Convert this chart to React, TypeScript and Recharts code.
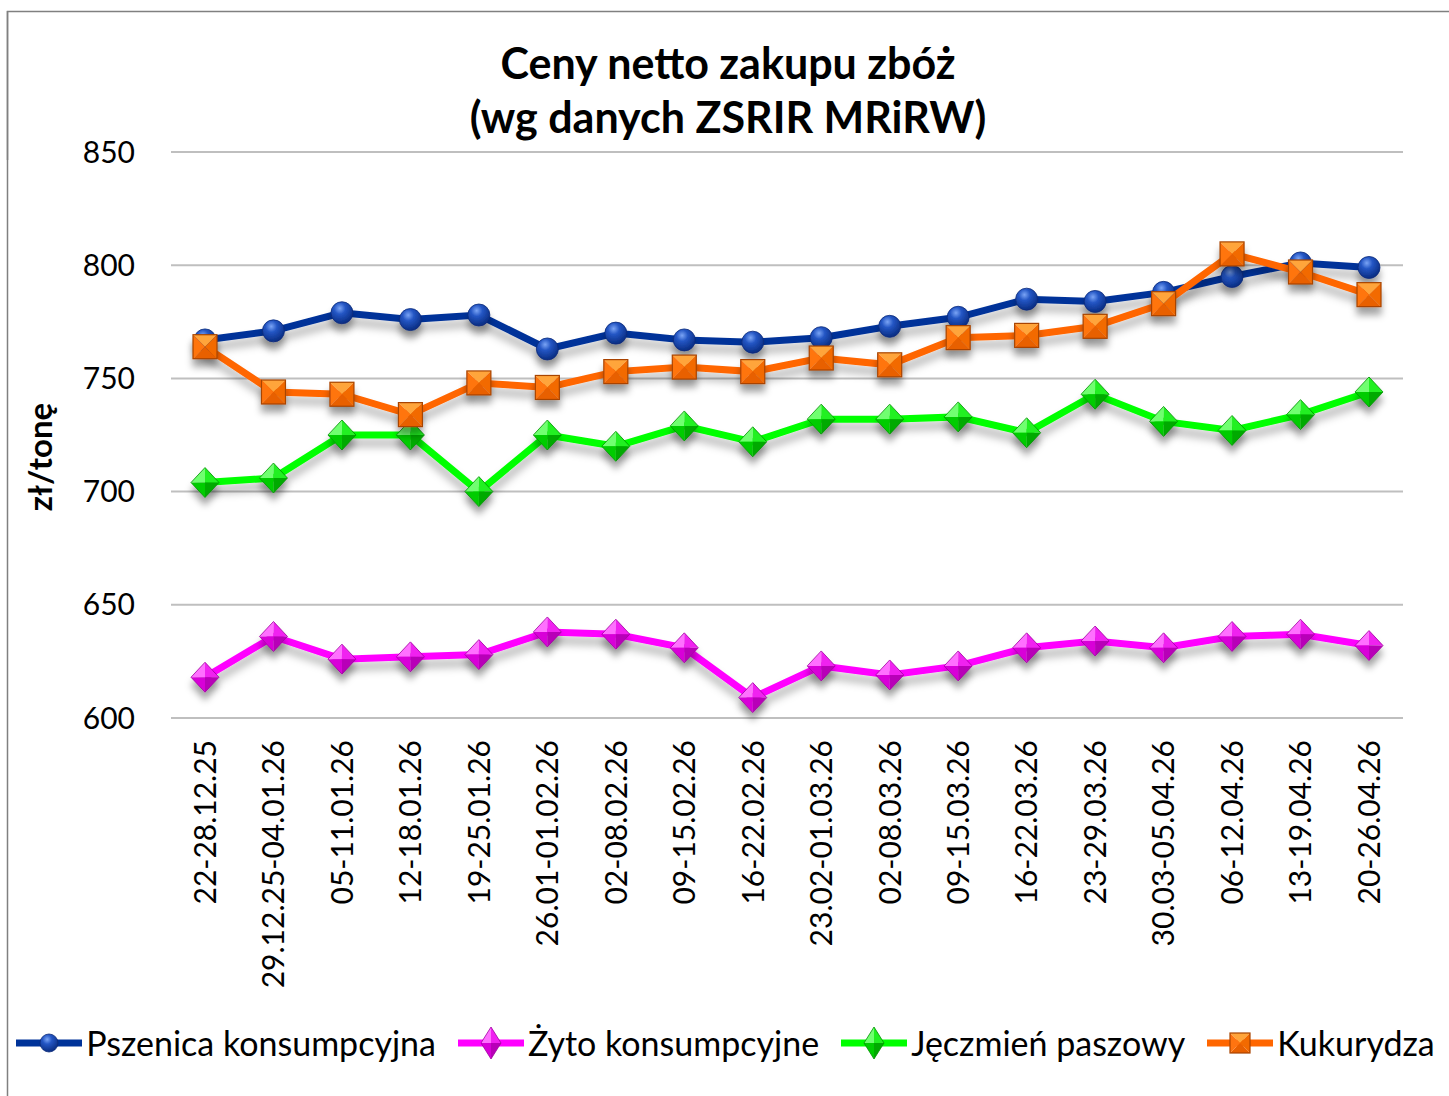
import React from 'react';
import { LineChart, Line, XAxis, YAxis, CartesianGrid, Legend } from 'recharts';

const categories = [
  '22-28.12.25', '29.12.25-04.01.26', '05-11.01.26', '12-18.01.26', '19-25.01.26',
  '26.01-01.02.26', '02-08.02.26', '09-15.02.26', '16-22.02.26', '23.02-01.03.26',
  '02-08.03.26', '09-15.03.26', '16-22.03.26', '23-29.03.26', '30.03-05.04.26',
  '06-12.04.26', '13-19.04.26', '20-26.04.26',
];
const pszenica = [767, 771, 779, 776, 778, 763, 770, 767, 766, 768, 773, 777, 785, 784, 788, 795, 801, 799];
const zyto = [618, 636, 626, 627, 628, 638, 637, 631, 609, 623, 619, 623, 631, 634, 631, 636, 637, 632];
const jeczmien = [704, 706, 725, 725, 700, 725, 720, 729, 722, 732, 732, 733, 726, 743, 731, 727, 734, 744];
const kukurydza = [764, 744, 743, 734, 748, 746, 753, 755, 753, 759, 756, 768, 769, 773, 783, 805, 797, 787];
const yTicks = [600, 650, 700, 750, 800, 850];

const seriesNames = ['Pszenica konsumpcyjna', 'Żyto konsumpcyjne', 'Jęczmień paszowy', 'Kukurydza'];
const seriesKeys = ['pszenica', 'zyto', 'jeczmien', 'kukurydza'];
const seriesColors = ['#003399', '#FF00FF', '#00FF00', '#FF6600'];

const data = categories.map((c, i) => ({
  cat: c,
  pszenica: pszenica[i],
  zyto: zyto[i],
  jeczmien: jeczmien[i],
  kukurydza: kukurydza[i],
}));

const FONT = 'Lato, "Open Sans", sans-serif';

const Ball = ({ cx, cy, r = 11, shadow = true }: any) => (
  <g filter={shadow ? 'url(#mkShadow)' : undefined}>
    <circle cx={cx} cy={cy} r={r} fill="url(#ballGrad)" stroke="#0a2a7a" strokeWidth={0.8} />
  </g>
);

const Diamond = ({ cx, cy, w = 14, h = 15, colors, shadow = true }: any) => {
  const t = `${cx},${cy - h}`;
  const r = `${cx + w},${cy}`;
  const b = `${cx},${cy + h}`;
  const l = `${cx - w},${cy}`;
  const c = `${cx},${cy}`;
  return (
    <g filter={shadow ? 'url(#mkShadow)' : undefined}>
      <polygon points={`${l} ${t} ${c}`} fill={colors[0]} />
      <polygon points={`${t} ${r} ${c}`} fill={colors[1]} />
      <polygon points={`${r} ${b} ${c}`} fill={colors[2]} />
      <polygon points={`${b} ${l} ${c}`} fill={colors[3]} />
      <polygon points={`${t} ${r} ${b} ${l}`} fill="none" stroke={colors[4]} strokeWidth={0.8} />
    </g>
  );
};

const Square = ({ cx, cy, s = 12, shadow = true }: any) => {
  const tl = `${cx - s},${cy - s}`;
  const tr = `${cx + s},${cy - s}`;
  const br = `${cx + s},${cy + s}`;
  const bl = `${cx - s},${cy + s}`;
  const c = `${cx},${cy}`;
  return (
    <g filter={shadow ? 'url(#mkShadow)' : undefined}>
      <polygon points={`${tl} ${tr} ${c}`} fill="#FFA53A" />
      <polygon points={`${tr} ${br} ${c}`} fill="#F26A00" />
      <polygon points={`${br} ${bl} ${c}`} fill="#E86000" />
      <polygon points={`${bl} ${tl} ${c}`} fill="#FF7410" />
      <rect x={cx - s} y={cy - s} width={2 * s} height={2 * s} fill="none" stroke="#A84400" strokeWidth={1.2} />
    </g>
  );
};

const magentaColors = ['#FF70FF', '#F020F0', '#B800B8', '#D800D8', '#A000A0'];
const greenColors = ['#70FF70', '#20F020', '#00AA00', '#00CC00', '#009000'];

const renderMarker = (key: string, props: any, legend = false) => {
  const { cx, cy, index } = props;
  if (cx == null || cy == null) return null;
  const k = `${key}-${index}`;
  if (key === 'pszenica') return <Ball key={k} cx={cx} cy={cy} shadow={!legend} r={legend ? 9 : 11} />;
  if (key === 'zyto') return <Diamond key={k} cx={cx} cy={cy} colors={magentaColors} shadow={!legend} w={legend ? 10 : 14} h={legend ? 16 : 15} />;
  if (key === 'jeczmien') return <Diamond key={k} cx={cx} cy={cy} colors={greenColors} shadow={!legend} w={legend ? 10 : 14} h={legend ? 16 : 15} />;
  return <Square key={k} cx={cx} cy={cy} shadow={!legend} s={legend ? 10 : 12} />;
};

const XTick = (props: any) => {
  const { x, y, payload } = props;
  return (
    <text
      x={x}
      y={y + 22}
      transform={`rotate(-90, ${x}, ${y + 22})`}
      textAnchor="end"
      dy="0.36em"
      fontSize={30}
      fontFamily={FONT}
      fill="#000"
    >
      {payload.value}
    </text>
  );
};

const LegendContent = () => (
  <div style={{ display: 'flex', justifyContent: 'center', alignItems: 'center', width: 1449, fontFamily: FONT }}>
    {seriesKeys.map((k, i) => (
      <div key={k} style={{ display: 'flex', alignItems: 'center', marginRight: i < 3 ? 20 : 0 }}>
        <svg width={70} height={40} style={{ display: 'block' }}>
          <line x1={2} y1={20} x2={68} y2={20} stroke={seriesColors[i]} strokeWidth={7} />
          {renderMarker(k, { cx: 35, cy: 20, index: 'lg' }, true)}
        </svg>
        <span style={{ fontSize: 34, color: '#000', marginLeft: 2, whiteSpace: 'nowrap' }}>{seriesNames[i]}</span>
      </div>
    ))}
  </div>
);

const YLabel = () => (
  <text
    x={40}
    y={457}
    transform="rotate(-90, 40, 457)"
    textAnchor="middle"
    dy="0.36em"
    fontSize={33}
    fontWeight="bold"
    fontFamily={FONT}
    fill="#000"
  >
    zł/tonę
  </text>
);

export default function App() {
  return (
    <div style={{ position: 'absolute', left: 0, top: 0, width: 1449, height: 1096, background: '#fff', fontFamily: FONT, overflow: 'hidden' }}>
      <svg width={0} height={0} style={{ position: 'absolute' }}>
        <defs>
          <radialGradient id="ballGrad" cx="40%" cy="30%" r="75%">
            <stop offset="0%" stopColor="#7aa4f5" />
            <stop offset="35%" stopColor="#2456c4" />
            <stop offset="100%" stopColor="#06287a" />
          </radialGradient>
          <filter id="lnShadow" x="-5%" y="-50%" width="110%" height="200%">
            <feDropShadow dx="0" dy="8" stdDeviation="4" floodColor="#000" floodOpacity="0.3" />
          </filter>
          <filter id="mkShadow" x="-60%" y="-60%" width="220%" height="260%">
            <feDropShadow dx="0" dy="8" stdDeviation="3.5" floodColor="#000" floodOpacity="0.35" />
          </filter>
        </defs>
      </svg>
      <LineChart
        width={1449}
        height={1096}
        data={data}
        margin={{ top: 152, right: 46, left: 0, bottom: 0 }}
      >
        <CartesianGrid vertical={false} stroke="#BFBFBF" strokeWidth={2} />
        <XAxis
          dataKey="cat"
          interval={0}
          height={378}
          axisLine={false}
          tickLine={false}
          tickSize={0}
          tickMargin={0}
          padding={{ left: 34, right: 34 }}
          tick={<XTick />}
        />
        <YAxis
          domain={[600, 850]}
          ticks={yTicks}
          width={171}
          axisLine={false}
          tickLine={false}
          tickSize={0}
          tickMargin={36}
          tick={{ fontSize: 30, fill: '#000', fontFamily: FONT }}
          label={<YLabel />}
        />
        <Legend
          verticalAlign="middle"
          layout="horizontal"
          wrapperStyle={{ top: 1022, left: 0, width: 1449 }}
          content={<LegendContent />}
        />
        {seriesKeys.map((k, i) => (
          <Line
            key={k}
            dataKey={k}
            name={seriesNames[i]}
            stroke={seriesColors[i]}
            strokeWidth={7}
            filter="url(#lnShadow)"
            dot={(p: any) => renderMarker(k, p)}
            activeDot={false}
            isAnimationActive={false}
          />
        ))}
      </LineChart>
      <svg width={1449} height={160} style={{ position: 'absolute', left: 0, top: 0, pointerEvents: 'none' }}>
        <rect x={7.5} y={11.5} width={1460} height={1100} fill="none" stroke="#808080" strokeWidth={1.5} />
        <text x={728} y={79} textAnchor="middle" fontSize={43} fontWeight="bold" fontFamily={FONT} fill="#000">
          Ceny netto zakupu zbóż
        </text>
        <text x={728} y={133} textAnchor="middle" fontSize={43} fontWeight="bold" fontFamily={FONT} fill="#000">
          (wg danych ZSRIR MRiRW)
        </text>
      </svg>
      <svg width={10} height={1096} style={{ position: 'absolute', left: 0, top: 0, pointerEvents: 'none' }}>
        <line x1={7.5} y1={11} x2={7.5} y2={1096} stroke="#808080" strokeWidth={1.5} />
      </svg>
    </div>
  );
}
